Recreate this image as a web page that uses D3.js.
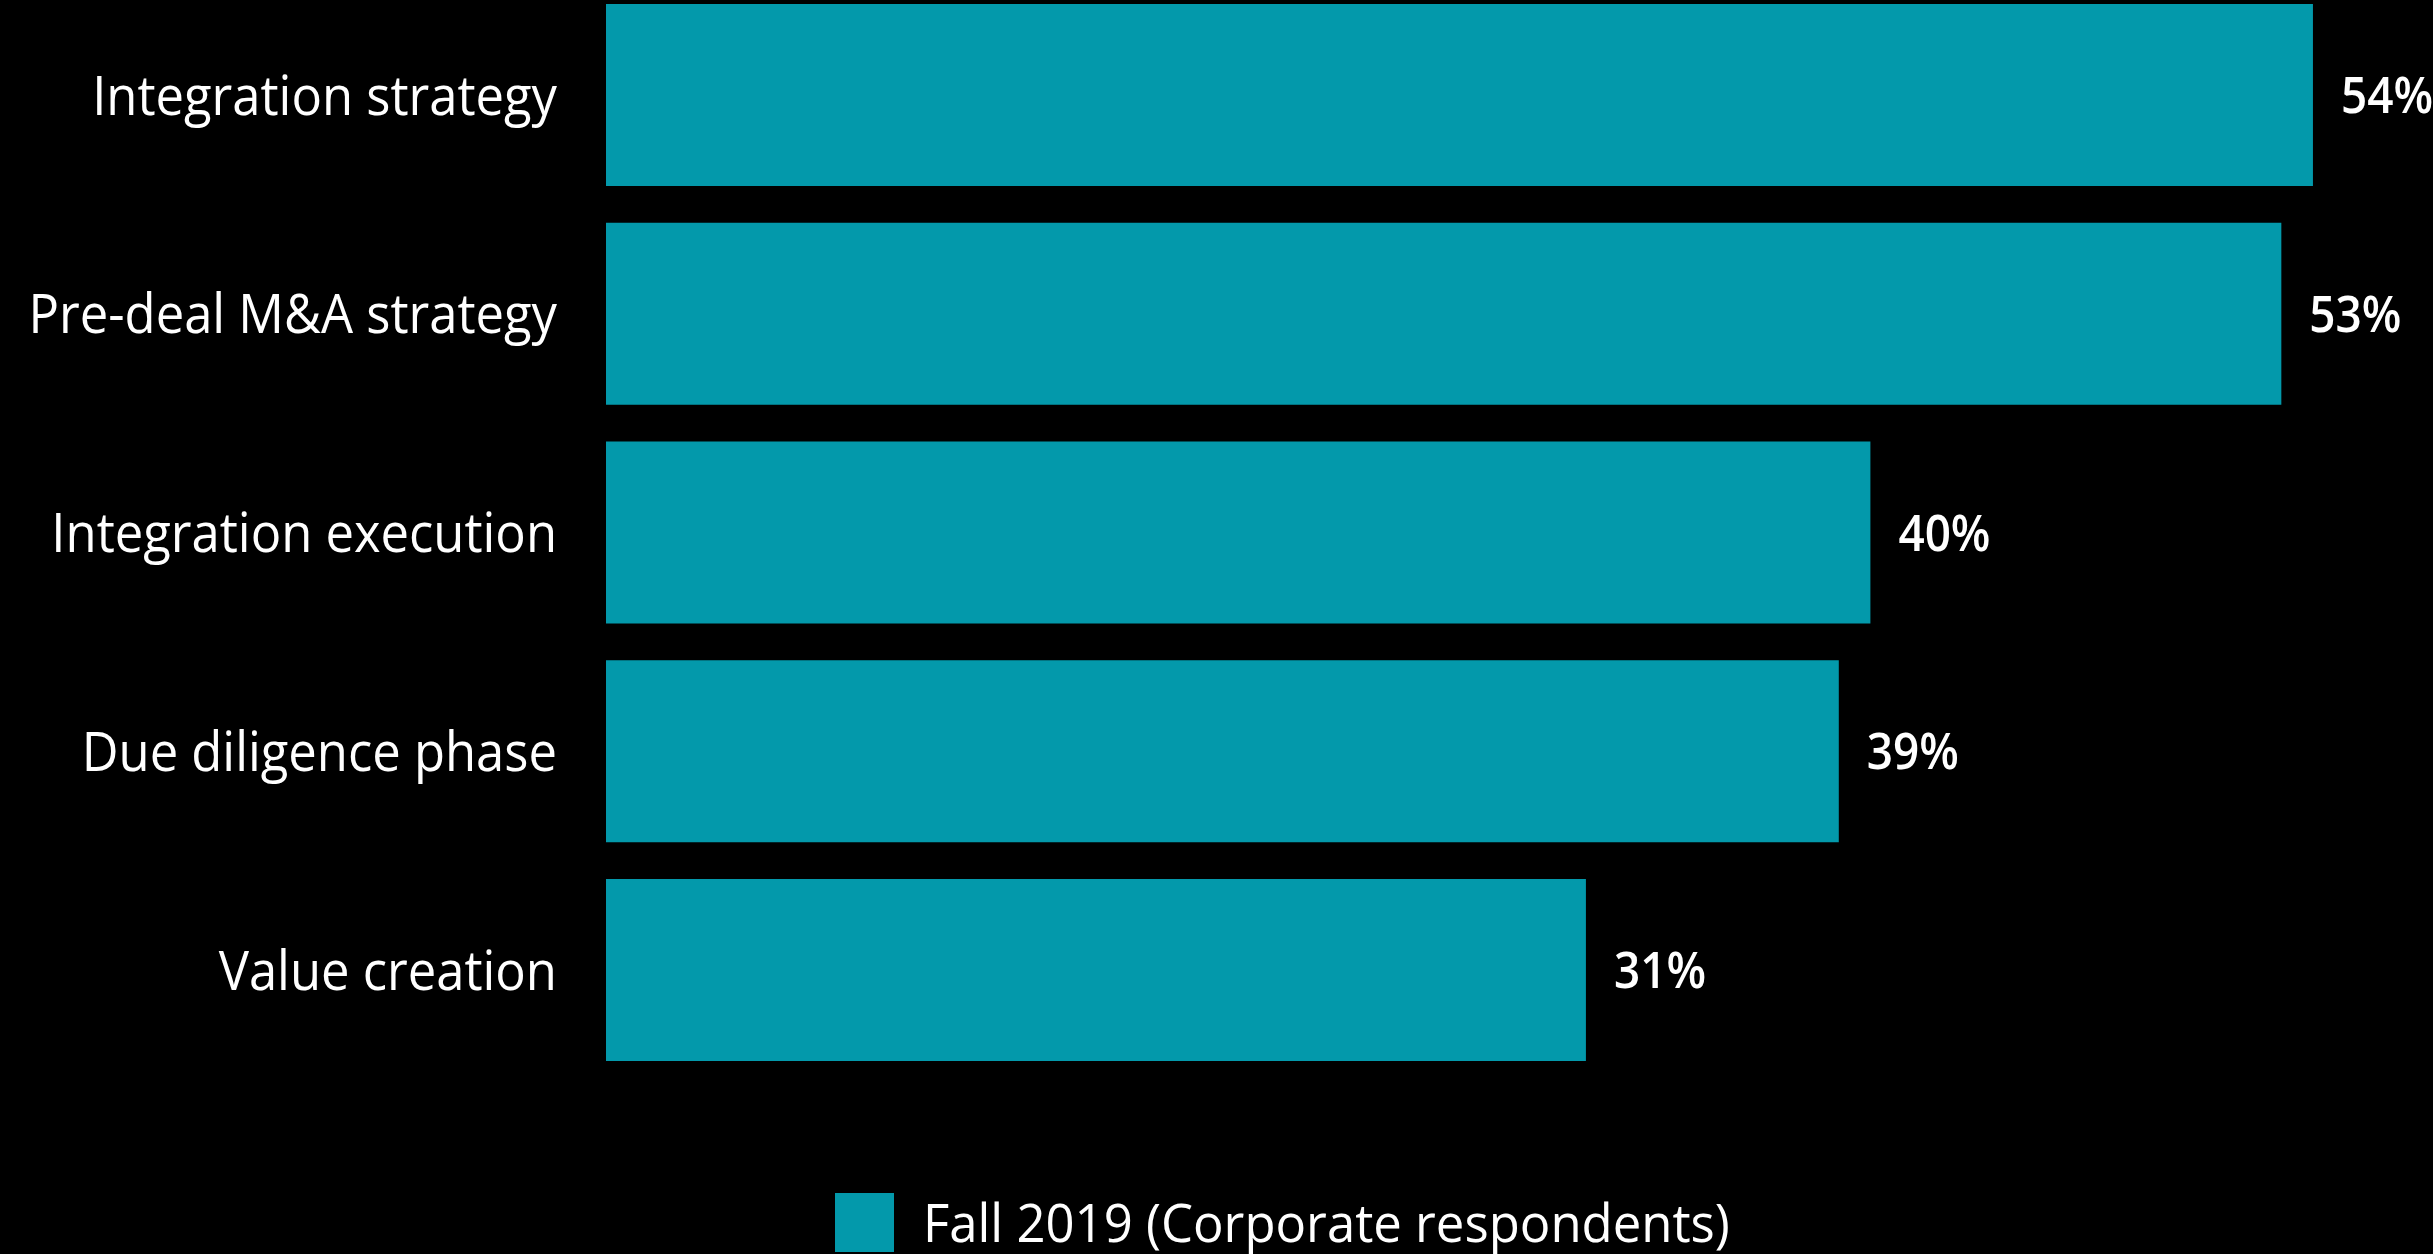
<!DOCTYPE html>
<html>
<head>
<meta charset="utf-8">
<script src="https://cdn.jsdelivr.net/npm/d3@7"></script>
<style>
  html, body { margin: 0; padding: 0; background: #000; }
  svg { display: block; }
</style>
</head>
<body>
<svg id="chart" width="2433" height="1254"></svg>
<script>
// Share of corporate respondents, by M&A phase
const categories = [
  "Integration strategy",
  "Pre-deal M&A strategy",
  "Integration execution",
  "Due diligence phase",
  "Value creation"
];
const values = [54, 53, 40, 39, 31];
const seriesName = "Fall 2019 (Corporate respondents)";

const W = 2433, H = 1254;
const barColor = "#0399AB";
const fontFamily = "'Open Sans', 'Noto Sans', sans-serif";

const svg = d3.select("#chart");
svg.append("rect").attr("width", W).attr("height", H).attr("fill", "#000");

const x = d3.scaleLinear().domain([0, 100]).range([606, 606 + 3161]);
const y = d3.scaleBand()
  .domain(categories)
  .range([4, 1061])
  .paddingInner(0.168)
  .paddingOuter(0);

const data = categories.map((c, i) => ({ category: c, value: values[i] }));

// bars
svg.append("g").selectAll("rect")
  .data(data)
  .join("rect")
  .attr("x", x(0))
  .attr("y", d => y(d.category))
  .attr("width", d => x(d.value) - x(0))
  .attr("height", y.bandwidth())
  .attr("fill", barColor);

// category labels (slightly condensed type)
svg.append("g").selectAll("text")
  .data(data)
  .join("text")
  .attr("transform", d => `translate(557,${y(d.category) + y.bandwidth() / 2 + 19.5}) scale(0.94,1)`)
  .attr("text-anchor", "end")
  .attr("fill", "#fff")
  .style("font-family", fontFamily)
  .style("font-size", "54px")
  .text(d => d.category);

// value labels
svg.append("g").selectAll("text")
  .data(data)
  .join("text")
  .attr("transform", d => `translate(${x(d.value) + 28},${y(d.category) + y.bandwidth() / 2 + 18}) scale(0.9,1)`)
  .attr("fill", "#fff")
  .style("font-family", fontFamily)
  .style("font-size", "51px")
  .style("font-weight", 600)
  .text(d => d.value + "%");

// legend
const legend = svg.append("g");
legend.append("rect")
  .attr("x", 835).attr("y", 1193)
  .attr("width", 59).attr("height", 59)
  .attr("fill", barColor);
legend.append("text")
  .attr("transform", "translate(923,1242) scale(0.96,1)")
  .attr("fill", "#fff")
  .style("font-family", fontFamily)
  .style("font-size", "53px")
  .text(seriesName);
</script>
</body>
</html>
